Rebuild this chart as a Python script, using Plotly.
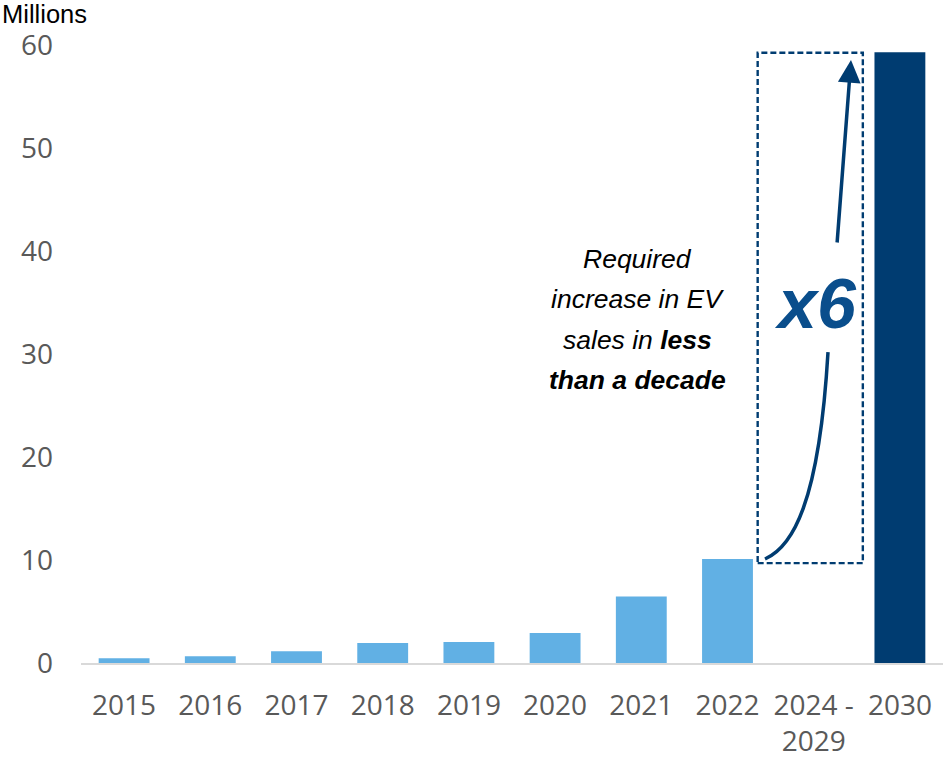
import plotly.graph_objects as go

# EV sales (millions) by year, plus the 2030 requirement
categories = ["2015", "2016", "2017", "2018", "2019", "2020", "2021", "2022", "2024 -<br>2029", "2030"]
sales = [0.47, 0.66, 1.15, 1.95, 2.05, 2.92, 6.45, 10.1, 0, 59.3]
bar_colors = ["#61B0E4"] * 9 + ["#003C71"]

y_ticks = [0, 10, 20, 30, 40, 50, 60]

NAVY = "#003C71"

fig = go.Figure()
fig.add_trace(go.Bar(
    x=categories,
    y=sales,
    marker=dict(color=bar_colors, line=dict(width=0)),
    hoverinfo="skip",
))

# dashed frame around the gap years
fig.add_shape(type="rect", xref="x", yref="y",
              x0=7.35, x1=8.57, y0=9.7, y1=59.25,
              line=dict(color=NAVY, width=2.4, dash="6px,3px"))

# helpers: page pixel -> paper fraction
def px(x):
    return (x - 81) / 862

def py(y):
    return (663 - y) / 618

# curved lower part of the growth arrow
curve = "M {:.4f},{:.4f} C {:.4f},{:.4f} {:.4f},{:.4f} {:.4f},{:.4f}".format(
    px(765), py(559), px(792), py(547), px(819), py(505), px(828), py(352))
fig.add_shape(type="path", xref="paper", yref="paper", path=curve,
              line=dict(color=NAVY, width=3.5))

# straight upper part with arrowhead
fig.add_annotation(xref="paper", yref="paper",
                   x=px(851), y=py(60), ax=837 - 851, ay=244 - 60,
                   axref="pixel", ayref="pixel",
                   text="", showarrow=True, arrowhead=2, arrowsize=1.3,
                   arrowwidth=3.5, arrowcolor=NAVY)

fig.add_annotation(xref="paper", yref="paper", x=px(815), y=py(304),
                   xanchor="center", yanchor="middle",
                   text="<b><i>x6</i></b>", showarrow=False,
                   font=dict(family="Liberation Sans, Arial", size=70, color="#0A4E8C"))

lines = ["<i>Required</i>", "<i>increase in EV</i>",
         "<i>sales in <b>less</b></i>", "<b><i>than a decade</i></b>"]
for i, t in enumerate(lines):
    fig.add_annotation(xref="paper", yref="paper", x=px(637), y=py(259 + 40.3 * i),
                       xanchor="center", yanchor="middle",
                       text=t, showarrow=False,
                       font=dict(family="Liberation Sans, Arial", size=26.5, color="#000000"))

fig.add_annotation(xref="paper", yref="paper", x=px(0), y=py(14),
                   xanchor="left", yanchor="middle",
                   text="Millions", showarrow=False,
                   font=dict(family="Liberation Sans, Arial", size=25.5, color="#000000"))

fig.update_layout(
    width=944, height=759,
    margin=dict(l=81, r=1, t=45, b=96),
    plot_bgcolor="white", paper_bgcolor="white",
    bargap=0.41,
    showlegend=False,
    font=dict(family="Open Sans", size=28, color="#595959"),
)
fig.update_xaxes(type="category", showgrid=False, showline=True,
                 linecolor="#D9D9D9", linewidth=2, ticks="",
                 ticklabelstandoff=16,
                 tickfont=dict(family="Open Sans", size=28, color="#595959"))
fig.update_yaxes(range=[0, 60], tickvals=y_ticks, showgrid=False, showline=False,
                 zeroline=False, ticks="", ticklabelstandoff=27,
                 tickfont=dict(family="Open Sans", size=28, color="#595959"))

fig.write_html("out.html")
